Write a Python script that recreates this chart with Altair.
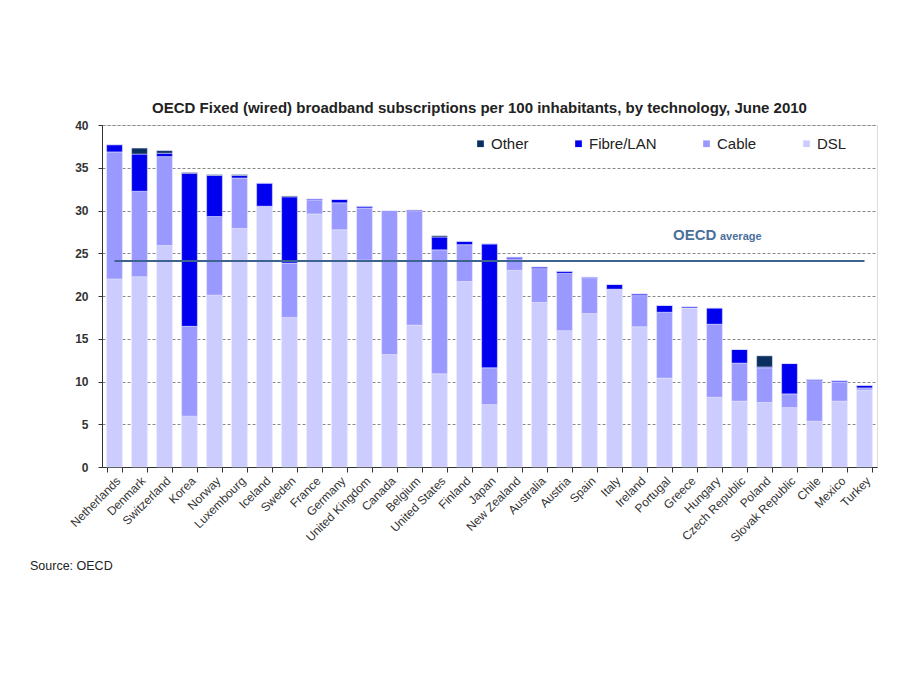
import altair as alt
import pandas as pd

countries = ["Netherlands", "Denmark", "Switzerland", "Korea", "Norway", "Luxembourg",
             "Iceland", "Sweden", "France", "Germany", "United Kingdom", "Canada",
             "Belgium", "United States", "Finland", "Japan", "New Zealand", "Australia",
             "Austria", "Spain", "Italy", "Ireland", "Portugal", "Greece", "Hungary",
             "Czech Republic", "Poland", "Slovak Republic", "Chile", "Mexico", "Turkey"]
dsl   = [22.0, 22.25, 25.9, 5.95, 20.1, 27.9, 30.5, 17.5, 29.6, 27.75, 24.2, 13.15,
         16.6, 10.9, 21.7, 7.3, 23.0, 19.25, 15.95, 17.95, 20.8, 16.4, 10.4, 18.6,
         8.15, 7.7, 7.55, 6.95, 5.35, 7.7, 9.0]
cable = [14.85, 10.0, 10.4, 10.5, 9.2, 5.9, 0.0, 6.35, 1.6, 3.15, 6.1, 16.85,
         13.3, 14.5, 4.3, 4.3, 1.35, 3.95, 6.7, 4.1, 0.0, 3.65, 7.7, 0.0,
         8.55, 4.45, 4.05, 1.6, 4.75, 2.25, 0.25]
fibre = [0.85, 4.35, 0.4, 17.9, 4.8, 0.3, 2.7, 7.75, 0.15, 0.4, 0.2, 0.0,
         0.15, 1.5, 0.4, 14.5, 0.2, 0.2, 0.25, 0.15, 0.55, 0.2, 0.8, 0.15,
         1.9, 1.6, 0.1, 3.55, 0.15, 0.15, 0.3]
other = [0.0, 0.7, 0.3, 0.1, 0.1, 0.1, 0.0, 0.1, 0.0, 0.0, 0.0, 0.0,
         0.0, 0.15, 0.0, 0.0, 0.0, 0.0, 0.0, 0.0, 0.0, 0.0, 0.0, 0.0,
         0.0, 0.0, 1.3, 0.0, 0.0, 0.0, 0.0]
oecd_average = 24.1

techs = ["Other", "Fibre/LAN", "Cable", "DSL"]
tech_colors = ["#0b2f5e", "#0000ee", "#9999ff", "#ccccff"]
stack_rank = {"DSL": 0, "Cable": 1, "Fibre/LAN": 2, "Other": 3}

rows = []
for i, c in enumerate(countries):
    for t, vals in (("DSL", dsl), ("Cable", cable), ("Fibre/LAN", fibre), ("Other", other)):
        rows.append({"country": c, "tech": t, "value": vals[i], "rank": stack_rank[t]})
df = pd.DataFrame(rows)
avg_df = pd.DataFrame({"country": countries, "avg": [oecd_average] * len(countries)})

W, H = 775, 342
FONT = "Liberation Sans"

x_enc = alt.X("country:N", sort=countries, title=None,
              scale=alt.Scale(paddingInner=0.37, paddingOuter=0.185),
              axis=alt.Axis(labelAngle=-45, labelFontSize=12, labelColor="#333333",
                            labelFont=FONT, tickBand="extent", tickColor="#333333",
                            domainColor="#333333", tickSize=5, labelPadding=3,
                            grid=False))

bars = alt.Chart(df).mark_bar(stroke="#e8e8ff", strokeWidth=0.5).encode(
    x=x_enc,
    y=alt.Y("value:Q", stack="zero", title=None,
            scale=alt.Scale(domain=[0, 40]),
            axis=alt.Axis(values=[0, 5, 10, 15, 20, 25, 30, 35, 40], labelFontSize=12,
                          labelColor="#333333", labelFont=FONT, labelFontWeight="bold",
                          tickColor="#333333", domainColor="#333333", tickSize=4,
                          labelPadding=10,
                          gridColor="#888888", gridDash=[3, 2], gridWidth=1)),
    color=alt.Color("tech:N", scale=alt.Scale(domain=techs, range=tech_colors),
                    legend=alt.Legend(title=None, orient="none", legendX=371, legendY=11,
                                      direction="horizontal", symbolType="square",
                                      symbolSize=45, symbolStrokeWidth=0,
                                      labelFontSize=15, labelFont=FONT,
                                      labelColor="#222222", labelOffset=3,
                                      columnPadding=42)),
    order=alt.Order("rank:Q", sort="ascending"),
)

avg_line = alt.Chart(avg_df).mark_line(color="#3d6390", strokeWidth=2).encode(
    x=alt.X("country:N", sort=countries),
    y=alt.Y("avg:Q"),
)

avg_label1 = alt.Chart(avg_df.head(1)).mark_text(
    text="OECD", font=FONT, fontSize=15, fontWeight="bold", color="#4a6f9c",
    align="left", baseline="alphabetic").encode(
    x=alt.value(571), y=alt.Y("avg:Q"), yOffset=alt.value(-21))
avg_label2 = alt.Chart(avg_df.head(1)).mark_text(
    text="average", font=FONT, fontSize=11, fontWeight="bold", color="#4a6f9c",
    align="left", baseline="alphabetic").encode(
    x=alt.value(618), y=alt.Y("avg:Q"), yOffset=alt.value(-21))

source = alt.Chart(avg_df.head(1)).mark_text(
    text="Source: OECD", font=FONT, fontSize=12.5, color="#222222",
    align="left", baseline="middle").encode(
    x=alt.value(-72), y=alt.value(441))

chart = alt.layer(bars, avg_line, avg_label1, avg_label2, source).properties(
    width=W, height=H,
    title=alt.TitleParams(
        "OECD Fixed (wired) broadband subscriptions per 100 inhabitants, by technology,  June 2010",
        font=FONT, fontSize=15, fontWeight="bold", color="#222222", offset=3, dx=-10),
    autosize=alt.AutoSizeParams(type="none"),
    padding={"left": 94, "top": 117, "right": 30, "bottom": 200},
).configure_view(stroke=None).configure(background="white")

chart.save("out.html", embed_options={"renderer": "svg", "actions": False})
